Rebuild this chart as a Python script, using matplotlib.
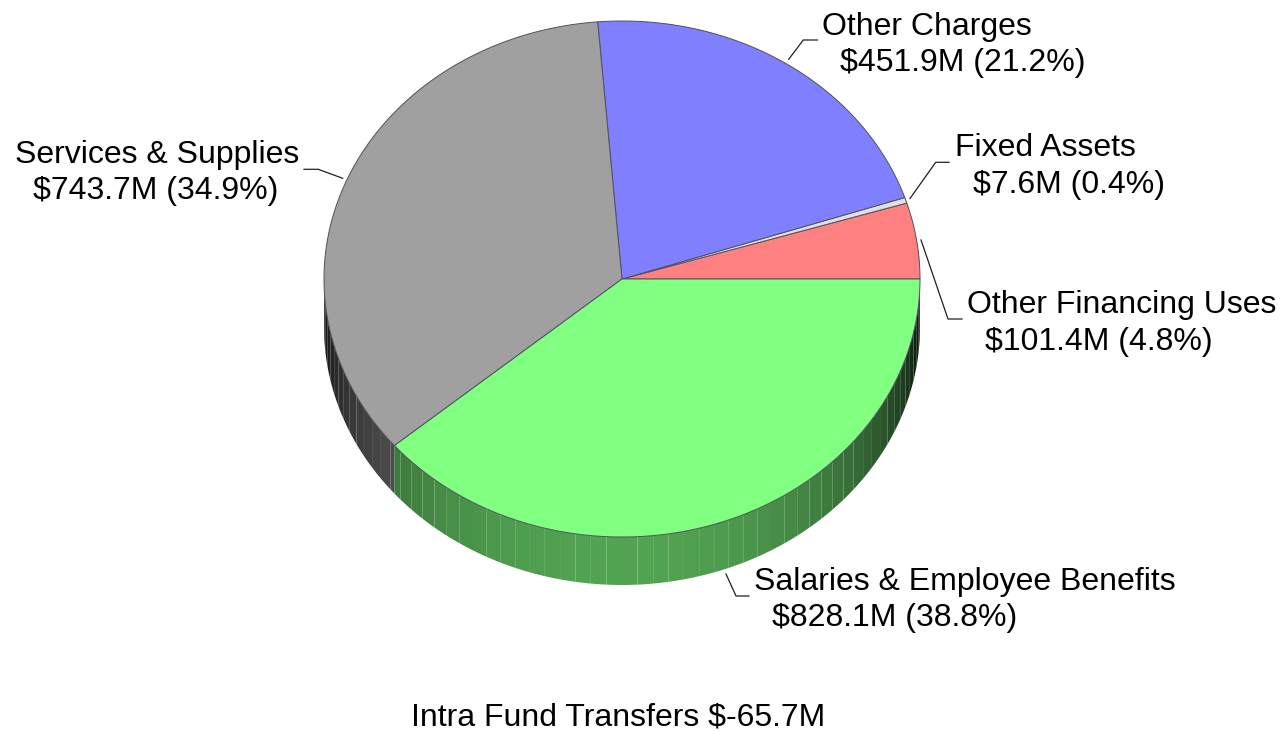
#!/usr/bin/env python3
"""Pseudo-3D budget pie: top ellipse plus faceted side wall, in pixel coordinates."""

import numpy as np
import matplotlib
matplotlib.use("Agg")
import matplotlib.pyplot as plt

# data, in pie order (counter-clockwise from 3 o'clock)
categories = ["Other Financing Uses", "Fixed Assets", "Other Charges",
              "Services & Supplies", "Salaries & Employee Benefits"]
amounts = [101.4, 7.6, 451.9, 743.7, 828.1]
percents = [4.8, 0.4, 21.2, 34.9, 38.8]
footer = "Intra Fund Transfers $-65.7M"

colors = ["#ff8080", "#e0e0e0", "#8080ff", "#a0a0a0", "#80ff80"]

# label placement: left x of each line, baseline y of each line
label_x1 = [967, 955, 822, 15, 754]
label_x2 = [985, 973, 840, 33, 772]
label_y1 = [313, 156, 35, 163, 590]
label_y2 = [350, 193, 71, 199, 626]

leaders = [
    ([921, 948, 962], [240, 319, 319]),
    ([910, 935.7, 949], [198.5, 162.3, 162.3]),
    ([788.7, 803.3, 817.3], [59.3, 40, 40]),
    ([342.7, 318.3, 304], [178.3, 169.3, 169.3]),
    ([726, 736, 749], [574, 596, 596]),
]

# pie geometry in pixels
CX, CY = 622, 279
RX, RY = 298, 258
DEPTH = 48
FACET_DEG = 3.0
FONT = "Liberation Sans"
FONT_SIZE = 23.05


def ellipse_pts(a0, a1, n=None):
    """Points on the top rim between two angles (degrees)."""
    if n is None:
        n = max(2, int(abs(a1 - a0)) * 2 + 2)
    t = np.radians(np.linspace(a0, a1, n))
    return CX + RX * np.cos(t), CY - RY * np.sin(t)


def shade(angle):
    """Side wall brightness: dark near the ends, bright at the front, right end darkest."""
    u = np.cos(np.radians(angle))
    power = 0.45 if u > 0 else 0.35
    return 0.64 * (1 - min(u * u, 1.0)) ** power


def draw_side(ax, a0, a1, color):
    # only the front half of the wall is visible
    a0, a1 = max(a0, 180), min(a1, 360)
    if a1 <= a0:
        return
    rgb = np.array(matplotlib.colors.to_rgb(color))
    edges = np.arange(np.ceil(a0 / FACET_DEG) * FACET_DEG, a1, FACET_DEG)
    edges = np.concatenate(([a0], edges[edges > a0], [a1]))
    for s, e in zip(edges[:-1], edges[1:]):
        x, y = ellipse_pts(s, e, 4)
        px = np.concatenate((x, x[::-1]))
        py = np.concatenate((y, y[::-1] + DEPTH))
        ax.fill(px, py, color=tuple(rgb * shade((s + e) / 2)), lw=0, zorder=1)


def main():
    fig = plt.figure(figsize=(12.83, 7.31), dpi=100, facecolor="white")
    ax = fig.add_axes([0, 0, 1, 1])
    ax.set_xlim(0, 1283)
    ax.set_ylim(731, 0)
    ax.axis("off")

    # slice angles from the values
    fracs = np.array(amounts) / np.sum(amounts)
    bounds = np.concatenate(([0], np.cumsum(fracs))) * 360

    for i, color in enumerate(colors):
        draw_side(ax, bounds[i], bounds[i + 1], color)

    # top face
    for i, color in enumerate(colors):
        x, y = ellipse_pts(bounds[i], bounds[i + 1])
        ax.fill(np.r_[CX, x], np.r_[CY, y], facecolor=color,
                edgecolor="#505060", lw=0.7, joinstyle="round", zorder=2)

    # leader lines
    for lx, ly in leaders:
        ax.plot(lx, ly, color="#202020", lw=0.9, zorder=3)

    # labels
    for i, name in enumerate(categories):
        ax.text(label_x1[i], label_y1[i], name, family=FONT, fontsize=FONT_SIZE,
                color="black", ha="left", va="baseline")
        ax.text(label_x2[i], label_y2[i], f"${amounts[i]:.1f}M ({percents[i]:.1f}%)",
                family=FONT, fontsize=FONT_SIZE, color="black", ha="left", va="baseline")
    ax.text(411, 725, footer, family=FONT, fontsize=FONT_SIZE, color="black",
            ha="left", va="baseline")

    fig.savefig("out.png", dpi=100)
    plt.close(fig)


if __name__ == "__main__":
    main()
